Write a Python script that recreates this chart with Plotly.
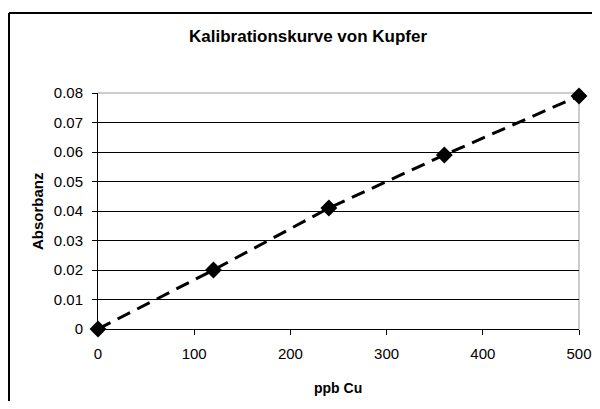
import plotly.graph_objects as go

ppb = [0, 120, 240, 360, 500]
absorbanz = [0.0, 0.020, 0.041, 0.059, 0.079]
x_ticks = [0, 100, 200, 300, 400, 500]
y_ticks = [0, 0.01, 0.02, 0.03, 0.04, 0.05, 0.06, 0.07, 0.08]
y_labels = ["0", "0.01", "0.02", "0.03", "0.04", "0.05", "0.06", "0.07", "0.08"]

# page body has an 8px margin; figure coordinates = page coordinates - 8
W, H = 584, 393
L, R, T, B = 90, 13, 85, 72
pw, ph = W - L - R, H - T - B

def px(xf):
    return (xf - L) / pw

def py(yf):
    return (H - B - yf) / ph

font = dict(family="Liberation Sans, Arial, sans-serif", color="black")

fig = go.Figure()
fig.add_trace(go.Scatter(
    x=ppb, y=absorbanz, mode="lines+markers",
    line=dict(color="black", width=3, dash="14px,8px"),
    marker=dict(symbol="diamond", size=13, color="black"),
    showlegend=False, cliponaxis=False,
))

fig.update_layout(
    width=W, height=H,
    margin=dict(l=L, r=R, t=T, b=B, autoexpand=False),
    paper_bgcolor="white", plot_bgcolor="white",
    font=dict(size=15, **font),
    xaxis=dict(range=[0, 500], tickvals=x_ticks, ticks="outside", ticklen=5,
               tickcolor="black", showline=True, linecolor="black", linewidth=1,
               showgrid=False, zeroline=False, tickfont=dict(size=15),
               ticklabelstandoff=6, automargin=False),
    yaxis=dict(range=[0, 0.08], tickvals=y_ticks, ticktext=y_labels, ticks="outside",
               ticklen=5, tickcolor="black", showline=True, linecolor="black",
               linewidth=1, showgrid=True, gridcolor="black", gridwidth=1,
               zeroline=False, tickfont=dict(size=15), ticklabelstandoff=6,
               automargin=False),
    shapes=[
        dict(type="line", xref="paper", yref="paper", x0=0, x1=1, y0=1, y1=1,
             line=dict(color="#999999", width=1), layer="below"),
        dict(type="line", xref="paper", yref="paper", x0=1, x1=1, y0=0, y1=1,
             line=dict(color="#999999", width=1), layer="below"),
        dict(type="line", xref="paper", yref="paper",
             x0=px(1), x1=px(W + 20), y0=py(5), y1=py(5),
             line=dict(color="black", width=2)),
        dict(type="line", xref="paper", yref="paper",
             x0=px(1), x1=px(1), y0=py(5), y1=py(H + 20),
             line=dict(color="black", width=2)),
    ],
    annotations=[
        dict(text="<b>Kalibrationskurve von Kupfer</b>", xref="paper", yref="paper",
             x=px(300), y=py(29), xanchor="center", yanchor="middle",
             showarrow=False, font=dict(size=17, **font)),
        dict(text="<b>ppb Cu</b>", xref="paper", yref="paper",
             x=px(330), y=py(380), xanchor="center", yanchor="middle",
             showarrow=False, font=dict(size=14, **font)),
        dict(text="<b>Absorbanz</b>", xref="paper", yref="paper",
             x=px(29), y=py(203), xanchor="center", yanchor="middle",
             showarrow=False, textangle=-90, font=dict(size=15, **font)),
    ],
)

fig.write_html("out.html")
